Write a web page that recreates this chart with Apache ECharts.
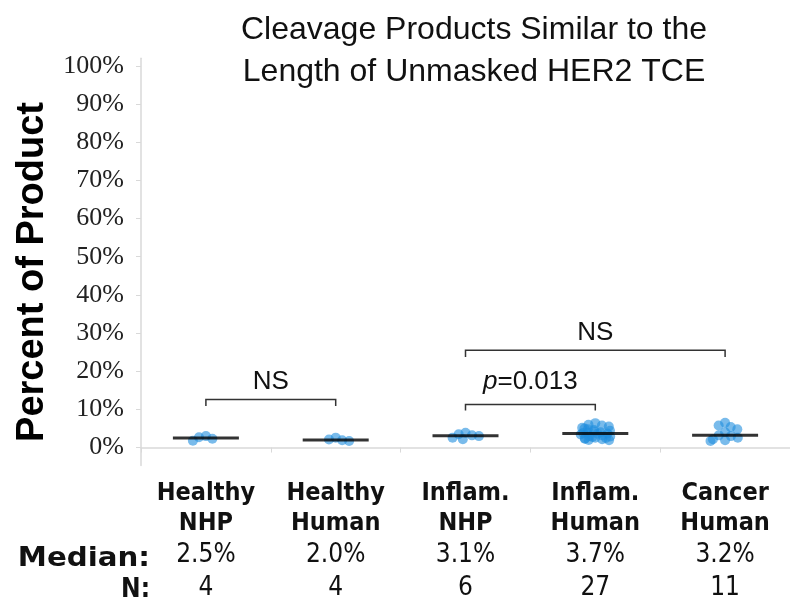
<!DOCTYPE html>
<html>
<head>
<meta charset="utf-8">
<script src="https://cdn.jsdelivr.net/npm/echarts@6/dist/echarts.min.js"></script>
<style>html,body{margin:0;padding:0;background:#fff}#c{width:790px;height:601px}</style>
</head>
<body>
<div id="c"></div>
<script>
const categories = ['Healthy NHP', 'Healthy Human', 'Inflam. NHP', 'Inflam. Human', 'Cancer Human'];
const catLine1 = ['Healthy', 'Healthy', 'Inflam.', 'Inflam.', 'Cancer'];
const catLine2 = ['NHP', 'Human', 'NHP', 'Human', 'Human'];
const medianLabels = ['2.5%', '2.0%', '3.1%', '3.7%', '3.2%'];
const medians = [2.5, 2.0, 3.1, 3.7, 3.2];
const counts = [4, 4, 6, 27, 11];
const healthyNHP = [3.0, 2.7, 2.3, 1.8];
const healthyHuman = [2.6, 2.1, 1.9, 1.7];
const inflamNHP = [3.9, 3.5, 3.2, 3.0, 2.6, 2.2];
const inflamHuman = [6.4, 6.0, 5.8, 5.5, 5.2, 5.0, 4.8, 4.6, 4.4, 4.2, 4.0, 3.9, 3.8, 3.7, 3.6, 3.4, 3.2, 3.0, 2.9, 2.8, 2.6, 2.5, 2.4, 2.3, 2.2, 2.0, 1.9];
const cancerHuman = [6.5, 5.8, 5.4, 4.8, 4.0, 3.2, 3.0, 2.6, 2.2, 1.9, 1.7];
const groups = [healthyNHP, healthyHuman, inflamNHP, inflamHuman, cancerHuman];
const yTicks = [0, 10, 20, 30, 40, 50, 60, 70, 80, 90, 100];
// comparisons between groups
const compFrom = [0, 2, 2];
const compTo = [1, 3, 4];
const compTop = [12.6, 11.3, 25.5];
const compLeg = [10.9, 9.7, 23.7];
const compLabelY = [17.2, 17.2, 30.0];
const compLabel = ['NS', '{i|p}=0.013', 'NS'];

const narrow = "'Liberation Sans Narrow', 'DejaVu Sans Condensed', 'Liberation Sans', sans-serif";
const sans = "'Liberation Sans', Arial, sans-serif";

const dots = [];
groups.forEach((g, i) => g.forEach(v => dots.push([categories[i], v])));
const medianData = medians.map((m, i) => [categories[i], m]);
const compData = compFrom.map((f, i) => [f, compTo[i], compTop[i], compLeg[i], compLabelY[i], i]);

const chart = echarts.init(document.getElementById('c'), null, {renderer: 'canvas'});
const xCommon = {
  type: 'category',
  data: categories,
  boundaryGap: true,
  axisLine: {show: true, lineStyle: {color: '#d9d9d9', width: 1.5}},
  axisTick: {show: true, length: 5, lineStyle: {color: '#d9d9d9'}},
  splitLine: {show: false}
};
chart.setOption({
  animation: false,
  backgroundColor: '#fff',
  title: {
    text: 'Cleavage Products Similar to the\nLength of Unmasked HER2 TCE',
    left: 469, top: 4, textAlign: 'center',
    textStyle: {fontFamily: sans, fontSize: 32, fontWeight: 'normal', color: '#111', lineHeight: 42}
  },
  grid: {left: 141, top: 58.3, width: 655, bottom: 133, containLabel: false},
  xAxis: [
    Object.assign({}, xCommon, {
      jitter: 30, jitterOverlap: false, jitterMargin: -3,
      axisLabel: {
        interval: 0, margin: 13,
        formatter: (v, i) => '{c|' + catLine1[i] + '}\n{c|' + catLine2[i] + '}\n{v|' + medianLabels[i] + '}\n{v|' + counts[i] + '}',
        rich: {
          c: {fontFamily: narrow, fontSize: 25, fontWeight: 'bold', color: '#111', lineHeight: 30},
          v: {fontFamily: narrow, fontSize: 26, color: '#111', lineHeight: 33}
        }
      }
    }),
    Object.assign({}, xCommon, {show: false, position: 'bottom'})
  ],
  yAxis: {
    type: 'value', min: -4.7, max: 102,
    axisLine: {show: true, lineStyle: {color: '#d9d9d9', width: 1.5}},
    axisTick: {show: true, length: 5, customValues: yTicks, lineStyle: {color: '#d9d9d9'}},
    splitLine: {show: false},
    axisLabel: {
      customValues: yTicks, margin: 17,
      formatter: v => v + '%',
      fontFamily: "'Liberation Serif', 'Times New Roman', serif", fontSize: 26, color: '#222'
    }
  },
  graphic: [
    {type: 'text', x: 33, y: 272, rotation: Math.PI / 2,
      style: {text: 'Percent of Product', font: "bold 38px " + sans, fill: '#000', align: 'center', verticalAlign: 'middle'}},
    {type: 'text', x: 150, y: 559, scaleX: 1.25,
      style: {text: 'Median:', font: "bold 26px " + narrow, fill: '#111', align: 'right', verticalAlign: 'middle'}},
    {type: 'text', x: 150, y: 590,
      style: {text: 'N:', font: "bold 26px " + narrow, fill: '#111', align: 'right', verticalAlign: 'middle'}}
  ],
  series: [
    {
      type: 'scatter', xAxisIndex: 0, data: dots, symbolSize: 10,
      itemStyle: {color: 'rgba(32,142,222,0.75)', borderWidth: 0}, z: 2
    },
    {
      type: 'scatter', xAxisIndex: 1, data: medianData, symbol: 'rect', symbolSize: [66, 3],
      itemStyle: {color: '#000'}, z: 3
    },
    {
      type: 'custom', xAxisIndex: 1, data: compData, z: 4,
      encode: {x: 0, y: 2},
      renderItem: (params, api) => {
        const a = api.coord([api.value(0), api.value(2)]);
        const b = api.coord([api.value(1), api.value(2)]);
        const legY = api.coord([api.value(0), api.value(3)])[1];
        const ty = api.coord([api.value(0), api.value(4)])[1];
        const idx = api.value(5);
        const ls = {stroke: '#333', lineWidth: 1.5, fill: null};
        return {
          type: 'group',
          children: [
            {type: 'polyline', shape: {points: [[a[0], legY], [a[0], a[1]], [b[0], b[1]], [b[0], legY]]}, style: ls},
            {type: 'text', x: (a[0] + b[0]) / 2, y: ty,
              style: {text: compLabel[idx], align: 'center', verticalAlign: 'middle',
                font: "26px " + sans, fill: '#111',
                rich: {i: {fontStyle: 'italic', fontFamily: sans, fontSize: 26, fill: '#111'}}}}
          ]
        };
      }
    }
  ]
});
</script>
</body>
</html>
